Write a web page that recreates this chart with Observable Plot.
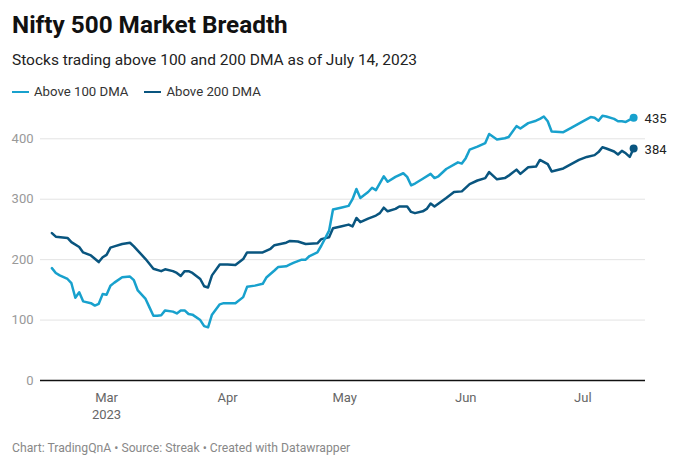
<!DOCTYPE html>
<html>
<head>
<meta charset="utf-8">
<script src="https://cdn.jsdelivr.net/npm/d3@7"></script>
<script src="https://cdn.jsdelivr.net/npm/@observablehq/plot@0.6"></script>
<style>
  html, body { margin: 0; padding: 0; background: #fff; }
  body { width: 689px; height: 467px; position: relative; overflow: hidden; font-family: Roboto, "Noto Sans", sans-serif; }
  .abs { position: absolute; white-space: nowrap; }
  #title { left: 12px; top: 10px; font-size: 24.3px; font-weight: 700; color: #111; line-height: 30px; }
  #subtitle { left: 12px; top: 49px; font-size: 15.5px; color: #222; line-height: 22px; }
  #legend { left: 12px; top: 83px; font-size: 13.2px; color: #333; line-height: 18px; display: flex; align-items: center; }
  .sw { display: inline-block; width: 17px; height: 2px; margin-right: 5px; }
  .item { display: inline-flex; align-items: center; margin-right: 16px; }
  #chart { left: 0; top: 100px; }
  #footer { left: 12px; top: 441px; font-size: 12.2px; color: #888; line-height: 15px; }
</style>
</head>
<body>
<div id="title" class="abs">Nifty 500 Market Breadth</div>
<div id="subtitle" class="abs">Stocks trading above 100 and 200 DMA as of July 14, 2023</div>
<div id="legend" class="abs"></div>
<div id="chart" class="abs"></div>
<div id="footer" class="abs">Chart: TradingQnA • Source: Streak • Created with Datawrapper</div>
<script>
const seriesNames = ["Above 100 DMA", "Above 200 DMA"];
const seriesColors = ["#18a1cd", "#09557f"];

const dates100 = ["2023-02-15","2023-02-16","2023-02-17","2023-02-19","2023-02-20","2023-02-21","2023-02-22","2023-02-23","2023-02-25","2023-02-26","2023-02-27","2023-02-28","2023-03-01","2023-03-02","2023-03-03","2023-03-05","2023-03-07","2023-03-08","2023-03-09","2023-03-11","2023-03-12","2023-03-13","2023-03-14","2023-03-15","2023-03-16","2023-03-18","2023-03-19","2023-03-20","2023-03-21","2023-03-22","2023-03-23","2023-03-25","2023-03-26","2023-03-27","2023-03-28","2023-03-30","2023-03-31","2023-04-03","2023-04-05","2023-04-06","2023-04-08","2023-04-10","2023-04-11","2023-04-13","2023-04-14","2023-04-16","2023-04-17","2023-04-18","2023-04-20","2023-04-21","2023-04-22","2023-04-24","2023-04-25","2023-04-27","2023-04-28","2023-04-30","2023-05-02","2023-05-03","2023-05-04","2023-05-05","2023-05-07","2023-05-08","2023-05-09","2023-05-11","2023-05-12","2023-05-14","2023-05-16","2023-05-17","2023-05-18","2023-05-19","2023-05-21","2023-05-23","2023-05-24","2023-05-25","2023-05-27","2023-05-30","2023-05-31","2023-06-01","2023-06-02","2023-06-04","2023-06-06","2023-06-07","2023-06-09","2023-06-11","2023-06-12","2023-06-14","2023-06-15","2023-06-17","2023-06-19","2023-06-20","2023-06-21","2023-06-22","2023-06-23","2023-06-26","2023-06-28","2023-07-01","2023-07-03","2023-07-04","2023-07-05","2023-07-06","2023-07-07","2023-07-09","2023-07-10","2023-07-11","2023-07-12","2023-07-14"];
const values100 = [186,178,174,168,161,137,146,131,128,124,127,143,142,157,162,171,172,166,149,135,121,107,107,108,116,114,111,116,116,110,109,100,90,88,109,126,128,128,138,155,157,160,171,182,188,189,192,195,200,200,206,212,223,248,283,286,289,300,317,302,312,319,315,338,329,337,343,337,323,326,334,342,335,338,350,361,359,368,382,387,393,408,399,401,403,421,417,426,430,433,437,429,412,411,418,429,436,435,430,438,437,433,429,429,428,435];

const dates200 = ["2023-02-15","2023-02-16","2023-02-19","2023-02-20","2023-02-22","2023-02-23","2023-02-25","2023-02-27","2023-02-28","2023-03-01","2023-03-02","2023-03-03","2023-03-05","2023-03-07","2023-03-08","2023-03-09","2023-03-11","2023-03-13","2023-03-15","2023-03-16","2023-03-18","2023-03-19","2023-03-20","2023-03-21","2023-03-22","2023-03-23","2023-03-25","2023-03-26","2023-03-27","2023-03-28","2023-03-30","2023-04-01","2023-04-03","2023-04-05","2023-04-06","2023-04-08","2023-04-10","2023-04-12","2023-04-13","2023-04-16","2023-04-17","2023-04-19","2023-04-21","2023-04-24","2023-04-25","2023-04-27","2023-04-28","2023-04-30","2023-05-02","2023-05-03","2023-05-04","2023-05-05","2023-05-07","2023-05-09","2023-05-10","2023-05-11","2023-05-12","2023-05-14","2023-05-15","2023-05-17","2023-05-18","2023-05-19","2023-05-21","2023-05-22","2023-05-23","2023-05-24","2023-05-27","2023-05-29","2023-05-31","2023-06-02","2023-06-04","2023-06-06","2023-06-07","2023-06-09","2023-06-11","2023-06-12","2023-06-14","2023-06-15","2023-06-17","2023-06-19","2023-06-20","2023-06-22","2023-06-23","2023-06-26","2023-06-28","2023-06-30","2023-07-02","2023-07-04","2023-07-05","2023-07-06","2023-07-07","2023-07-09","2023-07-10","2023-07-11","2023-07-12","2023-07-13","2023-07-14"];
const values200 = [244,238,236,229,221,212,207,196,204,208,220,222,226,228,222,215,201,185,181,184,181,178,173,181,181,178,168,156,154,174,192,192,191,201,212,212,212,218,224,228,231,230,226,227,234,237,252,255,258,255,269,262,268,273,277,286,280,284,288,288,279,277,280,284,293,288,302,312,313,325,331,335,345,333,335,339,349,342,353,354,365,358,346,351,358,365,370,373,378,386,384,379,374,380,376,370,384];

const tickDates = ["2023-03-01","2023-04-01","2023-05-01","2023-06-01","2023-07-01"];
const tickLabels = ["Mar\n2023","Apr","May","Jun","Jul"];
const yTicks = [0,100,200,300,400];

const s100 = dates100.map((d,i) => ({date: new Date(d), value: values100[i], series: seriesNames[0]}));
const s200 = dates200.map((d,i) => ({date: new Date(d), value: values200[i], series: seriesNames[1]}));
const last = [s100[s100.length-1], s200[s200.length-1]];

// legend
const legend = document.getElementById("legend");
seriesNames.forEach((n,i) => {
  const it = document.createElement("span");
  it.className = "item";
  it.innerHTML = `<span class="sw" style="background:${seriesColors[i]}"></span>${n}`;
  legend.appendChild(it);
});

const chart = Plot.plot({
  width: 689,
  height: 330,
  marginLeft: 40,
  marginRight: 44,
  marginTop: 8.1,
  marginBottom: 50,
  style: {fontFamily: "Roboto, sans-serif", background: "transparent", overflow: "visible"},
  x: {type: "utc", domain: [new Date("2023-02-12T02:00Z"), new Date("2023-07-17T01:00Z")]},
  y: {domain: [0, 450]},
  color: {domain: seriesNames, range: seriesColors},
  marks: [
    Plot.gridY(yTicks.slice(1), {stroke: "#e3e3e3", strokeOpacity: 1, strokeWidth: 1}),
    Plot.axisY({ticks: yTicks, tickSize: 0, tickPadding: 7, fontSize: 13, fill: "#999", label: null}),
    Plot.axisX({ticks: tickDates.map(d => new Date(d)), tickFormat: (d,i) => tickLabels[i], tickSize: 0, tickPadding: 10, fontSize: 13, fill: "#666", label: null, lineHeight: 1.28}),
    Plot.line(s200, {x: "date", y: "value", stroke: "series", strokeWidth: 2.5}),
    Plot.line(s100, {x: "date", y: "value", stroke: "series", strokeWidth: 2.5}),
    Plot.ruleY([0], {stroke: "#111", strokeWidth: 1.5}),
    Plot.dot(last, {x: "date", y: "value", fill: "series", r: 4}),
    Plot.text(last, {x: "date", y: "value", text: d => String(d.value), dx: 11, dy: 1.5, textAnchor: "start", fontSize: 13, fill: "#222"})
  ]
});
document.getElementById("chart").appendChild(chart);
</script>
</body>
</html>
